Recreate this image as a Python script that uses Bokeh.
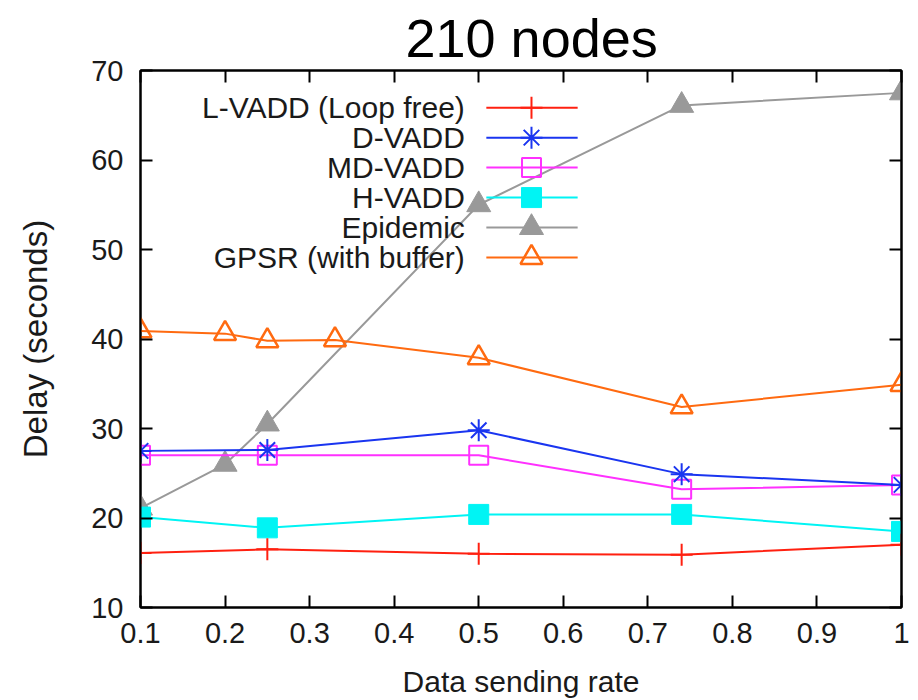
from bokeh.plotting import figure
from bokeh.models import Range1d, LinearAxis, FixedTicker, CustomLabelingPolicy
from bokeh.core.properties import value
from bokeh.embed import file_html
from bokeh.resources import INLINE

# ---- data ----
x_vadd = [0.1, 0.25, 0.5, 0.74, 1.0]
l_vadd = [16.1, 16.5, 16.0, 15.9, 17.0]
d_vadd = [27.5, 27.6, 29.8, 24.9, 23.7]
md_vadd = [27.0, 27.0, 27.0, 23.2, 23.7]
h_vadd = [20.1, 18.9, 20.4, 20.4, 18.5]

x_epidemic = [0.1, 0.2, 0.25, 0.5, 0.74, 1.0]
epidemic = [21.1, 26.0, 30.5, 55.0, 66.1, 67.5]

x_gpsr = [0.1, 0.2, 0.25, 0.33, 0.5, 0.74, 1.0]
gpsr = [40.9, 40.6, 39.8, 39.9, 37.9, 32.4, 34.9]

series_names = ["L-VADD (Loop free)", "D-VADD", "MD-VADD", "H-VADD",
                "Epidemic", "GPSR (with buffer)"]

x_ticks = [0.1, 0.2, 0.3, 0.4, 0.5, 0.6, 0.7, 0.8, 0.9, 1.0]
x_tick_labels = ["0.1", "0.2", "0.3", "0.4", "0.5", "0.6", "0.7", "0.8", "0.9", "1"]
y_ticks = [10, 20, 30, 40, 50, 60, 70]

FONT = "Liberation Sans"
TXT = "#1a1a1a"

p = figure(frame_width=761, frame_height=537,
           x_range=Range1d(0.1, 1.0), y_range=Range1d(10, 70),
           output_backend="svg", toolbar_location=None,
           min_border_left=140, min_border_right=16,
           min_border_top=70, min_border_bottom=93)
p.background_fill_color = "white"
p.border_fill_color = "white"
p.outline_line_color = "black"
p.outline_line_width = 2
p.xgrid.visible = False
p.ygrid.visible = False

p.title.text = "210 nodes"
p.title.text_font = FONT
p.title.text_font_size = "54px"
p.title.text_font_style = "normal"
p.title.text_color = "black"
p.title.align = "left"
p.title.offset = 265
p.title.standoff = 6

no_labels = CustomLabelingPolicy(code="""
    for (const i of [...indices]) indices.unset(i)
    return indices
""")

def style_axis(ax, show_labels):
    ax.axis_line_color = "black"
    ax.axis_line_width = 2
    ax.major_tick_line_color = "black"
    ax.major_tick_line_width = 2
    ax.major_tick_in = 12
    ax.major_tick_out = 0
    ax.minor_tick_line_color = None
    ax.major_label_text_font = FONT
    ax.major_label_text_color = TXT
    if not show_labels:
        ax.major_label_policy = no_labels
        ax.major_label_text_font_size = "0px"
        ax.major_label_standoff = 0

xa = p.xaxis[0]
xa.ticker = FixedTicker(ticks=x_ticks)
xa.major_label_overrides = {t: l for t, l in zip(x_ticks, x_tick_labels)}
style_axis(xa, True)
xa.major_label_text_font_size = "29px"
xa.major_label_standoff = 15
xa.axis_label = "Data sending rate"
xa.axis_label_text_font = FONT
xa.axis_label_text_font_size = "30px"
xa.axis_label_text_font_style = "normal"
xa.axis_label_text_color = TXT
xa.axis_label_standoff = 19

ya = p.yaxis[0]
ya.ticker = FixedTicker(ticks=y_ticks)
style_axis(ya, True)
ya.major_label_text_font_size = "29px"
ya.major_label_standoff = 17
ya.axis_label = "Delay (seconds)"
ya.axis_label_text_font = FONT
ya.axis_label_text_font_size = "33px"
ya.axis_label_text_font_style = "normal"
ya.axis_label_text_color = TXT
ya.axis_label_standoff = 34

top = LinearAxis(ticker=FixedTicker(ticks=x_ticks))
style_axis(top, False)
p.add_layout(top, "above")
right = LinearAxis(ticker=FixedTicker(ticks=y_ticks))
style_axis(right, False)
p.add_layout(right, "right")

# ---- series ----
RED = "#ff2010"
BLUE = "#1a35f0"
MAG = "#ff30ff"
CYAN = "#00f4f4"
GRAY = "#999999"
ORANGE = "#ff6a10"
LW = 2

p.line(x_epidemic, epidemic, line_color=GRAY, line_width=LW)
p.scatter(x_epidemic, epidemic, marker="triangle", size=24,
          fill_color=GRAY, line_color=GRAY)

p.line(x_gpsr, gpsr, line_color=ORANGE, line_width=LW)
p.scatter(x_gpsr, gpsr, marker="triangle", size=22,
          fill_color=None, line_color=ORANGE, line_width=2.5)

p.line(x_vadd, h_vadd, line_color=CYAN, line_width=LW)
p.scatter(x_vadd, h_vadd, marker="square", size=20,
          fill_color=CYAN, line_color=CYAN)

p.line(x_vadd, md_vadd, line_color=MAG, line_width=LW)
p.scatter(x_vadd, md_vadd, marker="square", size=19,
          fill_color=None, line_color=MAG, line_width=2)

p.line(x_vadd, d_vadd, line_color=BLUE, line_width=LW)
p.scatter(x_vadd, d_vadd, marker="asterisk", size=22,
          line_color=BLUE, line_width=2)

p.line(x_vadd, l_vadd, line_color=RED, line_width=LW)
p.scatter(x_vadd, l_vadd, marker="cross", size=22,
          line_color=RED, line_width=2)

# ---- legend (gnuplot style: text right-aligned, sample to the right) ----
leg_y = [65.85 - 3.35 * i for i in range(len(series_names))]
text_x = 0.4836
seg_x0, seg_x1, mark_x = 0.509, 0.617, 0.5624
colors = [RED, BLUE, MAG, CYAN, GRAY, ORANGE]
p.text(x=[text_x] * len(series_names), y=leg_y, text=series_names,
       text_align="right", text_baseline="middle",
       text_font=value(FONT), text_font_size=value("30px"), text_color=TXT)
p.segment(x0=[seg_x0] * 6, y0=leg_y, x1=[seg_x1] * 6, y1=leg_y,
          line_color=colors, line_width=LW)
p.scatter([mark_x], [leg_y[0]], marker="cross", size=22, line_color=RED, line_width=2)
p.scatter([mark_x], [leg_y[1]], marker="asterisk", size=22, line_color=BLUE, line_width=2)
p.scatter([mark_x], [leg_y[2]], marker="square", size=19, fill_color=None,
          line_color=MAG, line_width=2)
p.scatter([mark_x], [leg_y[3]], marker="square", size=20, fill_color=CYAN, line_color=CYAN)
p.scatter([mark_x], [leg_y[4]], marker="triangle", size=24, fill_color=GRAY, line_color=GRAY)
p.scatter([mark_x], [leg_y[5]], marker="triangle", size=22, fill_color=None,
          line_color=ORANGE, line_width=2.5)

open("out.html", "w").write(file_html(p, INLINE))
